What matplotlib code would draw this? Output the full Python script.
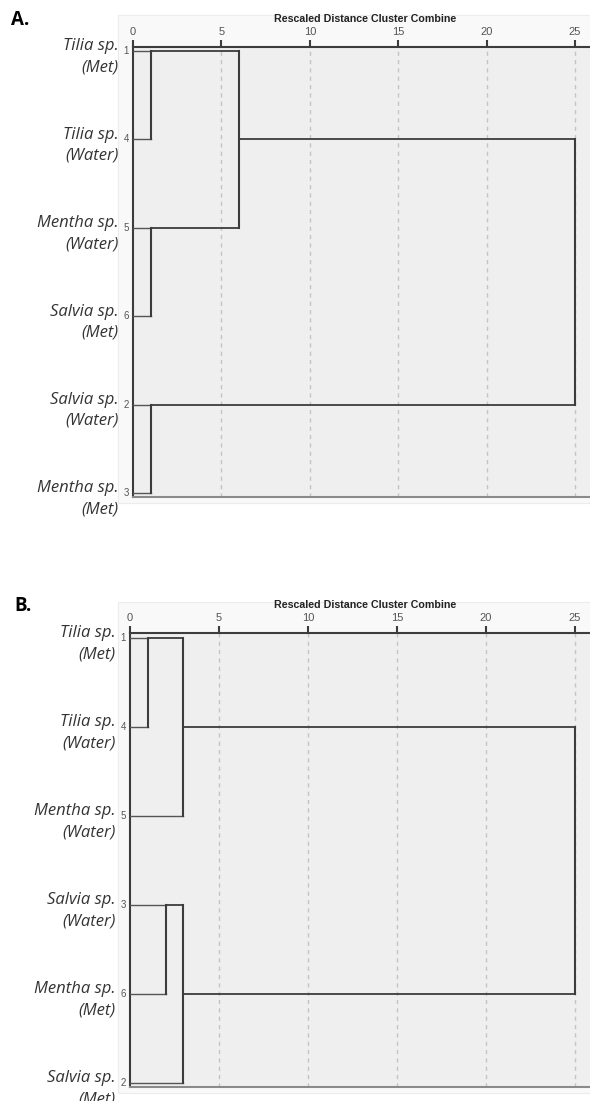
import math
import matplotlib
matplotlib.use("Agg")
import matplotlib.pyplot as plt
from matplotlib.patches import Rectangle

W, H = 590, 1101

# ---------------- data ----------------
x_ticks = [0, 5, 10, 15, 20, 25]
axis_title = "Rescaled Distance Cluster Combine"

# Panel A: leaf order top->bottom, SPSS case ids, merges (scipy-like indices: leaves 0..5, new clusters 6..)
a_labels = ["Tilia sp.\n(Met)", "Tilia sp.\n(Water)", "Mentha sp.\n(Water)",
            "Salvia sp.\n(Met)", "Salvia sp.\n(Water)", "Mentha sp.\n(Met)"]
a_case_ids = ["1", "4", "5", "6", "2", "3"]
a_merge_left = [0, 2, 4, 6, 9]
a_merge_right = [1, 3, 5, 7, 8]
a_merge_dist = [1.0, 1.0, 1.0, 6.0, 25.0]

# Panel B
b_labels = ["Tilia sp.\n(Met)", "Tilia sp.\n(Water)", "Mentha sp.\n(Water)",
            "Salvia sp.\n(Water)", "Mentha sp.\n(Met)", "Salvia sp.\n(Met)"]
b_case_ids = ["1", "4", "5", "3", "6", "2"]
b_merge_left = [0, 3, 6, 7, 8]
b_merge_right = [1, 4, 2, 5, 9]
b_merge_dist = [1.0, 2.0, 3.0, 3.0, 25.0]

# ---------------- figure ----------------
fig = plt.figure(figsize=(W / 100, H / 100), dpi=100)
fig.patch.set_facecolor("white")

LINE = "#3c3c3c"


def px_rect(x0, y0, x1, y1):
    return [x0 / W, 1 - y1 / H, (x1 - x0) / W, (y1 - y0) / H]


def panel(letter, labels, ids, left, right, dist, frame, axbox, unit_px, row_px, top_off, letter_xy, title_y):
    # light outer frame
    fx0, fy0, fx1, fy1 = frame
    fig.patches.append(Rectangle((fx0 / W, 1 - fy1 / H), (fx1 - fx0) / W, (fy1 - fy0) / H,
                                 transform=fig.transFigure, facecolor="#f9f9f9",
                                 edgecolor="#ececec", lw=0.8, zorder=-1))
    x0, y0, x1, y1 = axbox
    ax = fig.add_axes(px_rect(x0, y0, x1, y1))
    ax.set_facecolor("#efefef")
    n = len(labels)
    ax.set_xlim(0, (x1 - x0) / unit_px)
    ax.set_ylim((n - 1) + (y1 - y0 - top_off - (n - 1) * row_px) / row_px, -top_off / row_px)

    # grid
    for t in x_ticks[1:]:
        ax.axvline(t, color="#c4c4c4", lw=1.0, ls=(0, (3, 3)), zorder=1)

    # dendrogram
    ypos = list(range(n))
    xpos = [0.0] * n
    for l, r, d in zip(left, right, dist):
        for c in (l, r):
            is_leaf = c < n
            ax.plot([xpos[c], d], [ypos[c], ypos[c]], color=LINE if not is_leaf else "#555555",
                    lw=1.3 if not is_leaf else 1.0, solid_capstyle="projecting", zorder=3)
        ax.plot([d, d], [ypos[l], ypos[r]], color=LINE, lw=1.5, solid_capstyle="projecting", zorder=3)
        ypos.append(math.floor((ypos[l] + ypos[r]) / 2))
        xpos.append(d)

    # spines / ticks
    ax.spines["right"].set_visible(False)
    ax.spines["top"].set_color("#3c3c3c")
    ax.spines["top"].set_linewidth(1.5)
    ax.spines["left"].set_color("#3c3c3c")
    ax.spines["left"].set_linewidth(1.5)
    ax.spines["bottom"].set_color("#8a8a8a")
    ax.spines["bottom"].set_linewidth(1.5)
    ax.xaxis.tick_top()
    ax.set_xticks(x_ticks)
    ax.set_xticklabels([str(t) for t in x_ticks])
    ax.tick_params(axis="x", direction="out", length=5, width=1.5, color="#3c3c3c",
                   labelsize=8, labelcolor="#555555", pad=2)
    for lab in ax.get_xticklabels():
        lab.set_family("Liberation Sans")
    ax.set_yticks([])

    # case ids and species labels
    for i in range(n):
        ax.annotate(ids[i], xy=(0, i), xycoords="data", xytext=(-3, 0), textcoords="offset points",
                    ha="right", va="center", fontsize=7, color="#555555",
                    family="Liberation Sans", annotation_clip=False)
        ax.annotate(labels[i], xy=(0, i), xycoords="data", xytext=(-10.5, -4.2), textcoords="offset points",
                    ha="right", va="center", ma="right", fontsize=12, color="#333333",
                    family="Open Sans", style="italic", linespacing=1.42, annotation_clip=False)

    # title
    fig.text(365 / W, 1 - title_y / H, axis_title, ha="center", va="center", fontsize=7.7,
             fontweight="bold", family="Liberation Sans", color="#222222")
    # panel letter
    fig.text(letter_xy[0] / W, 1 - letter_xy[1] / H, letter, ha="left", va="center",
             fontsize=13.5, fontweight="bold", family="Open Sans", color="black")
    return ax


panel("A.", a_labels, a_case_ids, a_merge_left, a_merge_right, a_merge_dist,
      frame=(118, 15, 590, 503), axbox=(133, 47, 590, 497), unit_px=17.68, row_px=88.4,
      top_off=4, letter_xy=(11, 20), title_y=18.5)

panel("B.", b_labels, b_case_ids, b_merge_left, b_merge_right, b_merge_dist,
      frame=(118, 602, 590, 1093), axbox=(130, 633, 590, 1087), unit_px=17.8, row_px=89.0,
      top_off=5, letter_xy=(14, 606), title_y=605)

fig.savefig("out.png", dpi=100, facecolor="white")
